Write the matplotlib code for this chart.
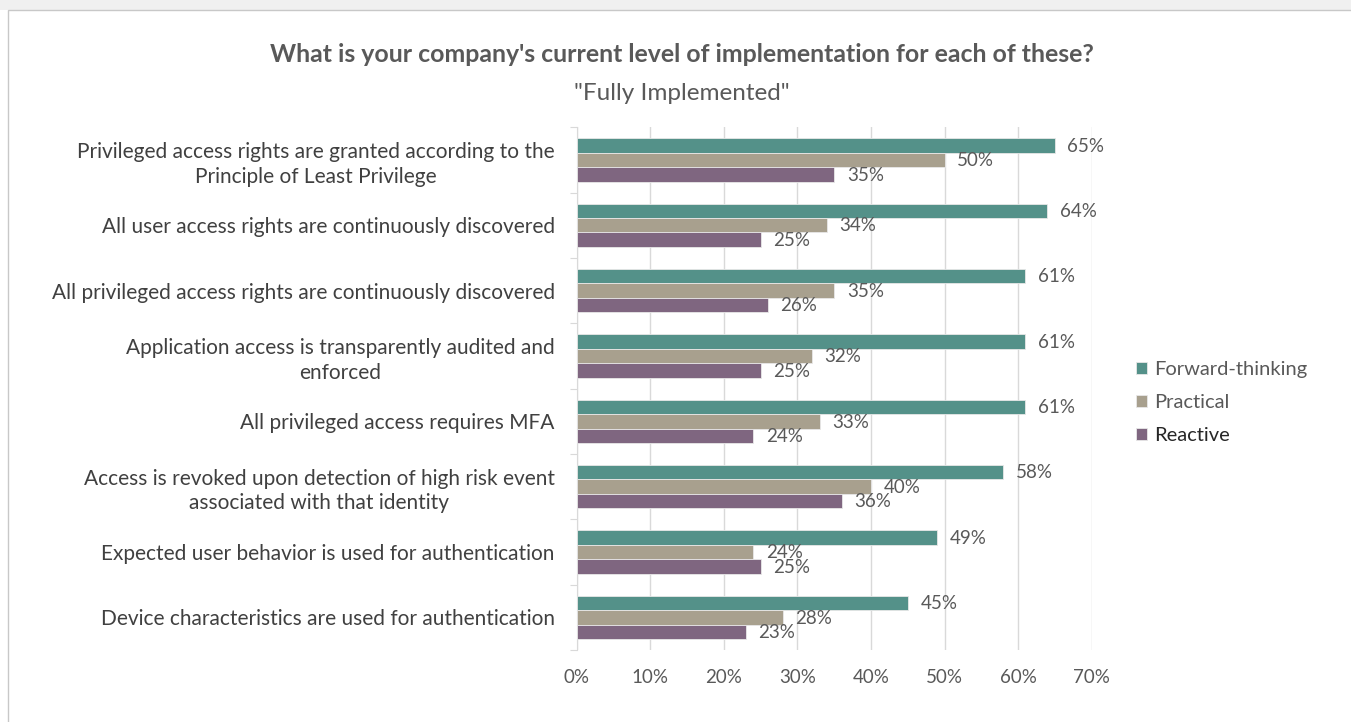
import numpy as np
import matplotlib
matplotlib.use("Agg")
import matplotlib.pyplot as plt
from matplotlib.patches import Rectangle

plt.rcParams['font.family'] = ['Lato', 'DejaVu Sans']

categories = [
    "Privileged access rights are granted according to the\nPrinciple of Least Privilege",
    "All user access rights are continuously discovered",
    "All privileged access rights are continuously discovered",
    "Application access is transparently audited and\nenforced",
    "All privileged access requires MFA",
    "Access is revoked upon detection of high risk event\nassociated with that identity",
    "Expected user behavior is used for authentication",
    "Device characteristics are used for authentication",
]
forward = [65, 64, 61, 61, 61, 58, 49, 45]
practical = [50, 34, 35, 32, 33, 40, 24, 28]
reactive = [35, 25, 26, 25, 24, 36, 25, 23]
series_names = ["Forward-thinking", "Practical", "Reactive"]
colors = ["#549189", "#A8A08E", "#7F6680"]
xticks = [0, 10, 20, 30, 40, 50, 60, 70]

fig = plt.figure(figsize=(13.51, 7.22), dpi=100)
fig.patch.set_facecolor("white")

# screenshot frame
fig.patches.append(Rectangle((0, 1 - 10 / 722), 1, 10 / 722, transform=fig.transFigure,
                             facecolor="#f0f0f0", edgecolor="none", zorder=-5))
fig.patches.append(Rectangle((8 / 1351, -0.01), 1.1, 1 - 10 / 722 + 0.01, transform=fig.transFigure,
                             facecolor="white", edgecolor="#c8c8c8", linewidth=1, zorder=-5))

ax = fig.add_axes([0.427, 0.0997, 0.381, 0.724])
ax.set_zorder(2)

y = np.arange(len(categories))
h = 0.22
data = [forward, practical, reactive]
offsets = [-h, 0, h]
for vals, off, col, name in zip(data, offsets, colors, series_names):
    bars = ax.barh(y + off, vals, height=h, color=col, edgecolor="#e8e8e8", linewidth=0.6,
                   label=name, zorder=3)
    for b, v in zip(bars, vals):
        ax.annotate(f"{v}%", (b.get_width(), b.get_y() + b.get_height() / 2),
                    xytext=(9, -0.5), textcoords="offset points", va="center", ha="left",
                    fontsize=13.5, color="#595959")

ax.set_xlim(0, 70)
ax.set_ylim(len(categories) - 0.5, -0.5)
ax.set_xticks(xticks)
ax.set_xticklabels([f"{t}%" for t in xticks], fontsize=13.5, color="#595959")
ax.tick_params(axis="x", length=0, pad=14)
ax.grid(axis="x", color="#d9d9d9", linewidth=1, zorder=0)

ax.set_yticks(np.arange(-0.5, len(categories) + 0.5, 1))
ax.set_yticklabels([])
ax.tick_params(axis="y", which="major", length=5, color="#d9d9d9", direction="out")
ax.set_yticks(y, minor=True)
ax.set_yticklabels(categories, minor=True, fontsize=15, color="#404040",
                   linespacing=1.3, multialignment="center")
ax.tick_params(axis="y", which="minor", length=0, pad=16)

for s in ["top", "right", "bottom"]:
    ax.spines[s].set_visible(False)
ax.spines["left"].set_color("#d9d9d9")

fig.text(0.505, 0.924, "What is your company's current level of implementation for each of these?",
         ha="center", va="center", fontsize=17.9, fontweight="bold", color="#595959")
fig.text(0.505, 0.870, '"Fully Implemented"', ha="center", va="center", fontsize=17.5, color="#595959")

leg = fig.legend(loc="center left", bbox_to_anchor=(0.8275, 0.442), frameon=False, fontsize=14.5,
                 handlelength=0.55, handleheight=0.55, handletextpad=0.35, labelspacing=0.8)
for t in leg.get_texts():
    t.set_color("#595959")
leg.get_texts()[2].set_color("#262626")

fig.savefig("out.png", dpi=100)
